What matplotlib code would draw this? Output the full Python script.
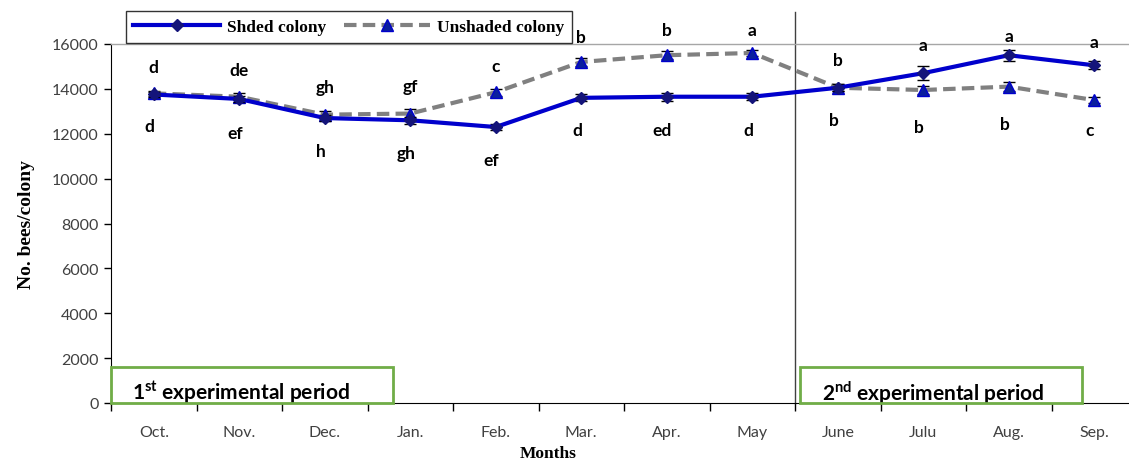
import matplotlib
matplotlib.use("Agg")
import matplotlib.pyplot as plt
from matplotlib.patches import Rectangle
from matplotlib.lines import Line2D
from matplotlib.ticker import FixedLocator, NullFormatter, FixedFormatter

months = ["Oct.", "Nov.", "Dec.", "Jan.", "Feb.", "Mar.", "Apr.", "May",
          "June", "Julu", "Aug.", "Sep."]
shaded = [13750, 13550, 12700, 12600, 12300, 13600, 13650, 13650,
          14050, 14700, 15500, 15050]
shaded_err = [120, 150, 150, 150, 120, 150, 180, 150, 150, 300, 250, 180]
unshaded = [13800, 13650, 12850, 12900, 13850, 15200, 15500, 15600,
            14050, 13950, 14100, 13500]
unshaded_err = [120, 150, 150, 200, 150, 180, 180, 150, 150, 200, 200, 150]
top_letters = ["d", "de", "gh", "gf", "c", "b", "b", "a", "b", "a", "a", "a"]
bottom_letters = ["d", "ef", "h", "gh", "ef", "d", "ed", "d", "b", "b", "b", "c"]

# label heights (data units) as placed in the reference
top_label_y = [14980, 14840, 14090, 14130, 15020, 16310, 16620, 16620,
               15290, 15950, 16350, 16090]
bottom_label_y = [12350, 12040, 11240, 11150, 10840, 12180, 12180, 12180,
                  12620, 12310, 12440, 12180]

plt.rcParams['mathtext.fontset'] = 'custom'
plt.rcParams['mathtext.bf'] = 'Lato:bold'
plt.rcParams['mathtext.rm'] = 'Lato'

W, H = 1129, 464
fig = plt.figure(figsize=(W / 100, H / 100), dpi=100)
ax = fig.add_axes([111 / W, (H - 404) / H, (1137 - 111) / W, (404 - 45) / H])

x = list(range(len(months)))
shaded_style = dict(color="#0000CC", lw=3, marker="D", markersize=6,
                    markerfacecolor="#14147A", markeredgecolor="#14147A")
unshaded_style = dict(color="#808080", lw=3, ls=(0, (3, 1.5)), marker="^",
                      markersize=8, markerfacecolor="#0A1E9E",
                      markeredgecolor="#0000CC")
ax.errorbar(x, shaded, yerr=shaded_err, ecolor="black", elinewidth=1, capsize=4,
            capthick=1, zorder=4, **shaded_style)
ax.errorbar(x, unshaded, yerr=unshaded_err, ecolor="black", elinewidth=1,
            capsize=4, capthick=1, zorder=3, **unshaded_style)

ax.set_xlim(-0.5, len(months) - 0.5)
ax.set_ylim(0, 16000)

# x ticks at category boundaries, labels at centres
ax.xaxis.set_major_locator(FixedLocator([i - 0.5 for i in range(len(months) + 1)]))
ax.xaxis.set_major_formatter(NullFormatter())
ax.xaxis.set_minor_locator(FixedLocator(x))
ax.xaxis.set_minor_formatter(FixedFormatter(months))
ax.tick_params(axis="x", which="major", direction="out", length=6, width=1, color="black")
ax.tick_params(axis="x", which="minor", length=0, pad=16, labelsize=11.5, labelcolor="#404040")
ax.set_yticks(range(0, 16001, 2000))
ax.tick_params(axis="y", direction="out", length=5, width=1, labelsize=11.5,
               labelcolor="#404040", pad=4)
for lab in ax.get_xticklabels(minor=True) + ax.get_yticklabels():
    lab.set_family("Lato")

ax.spines["right"].set_visible(False)
ax.spines["top"].set_color("#A6A6A6")
ax.spines["top"].set_linewidth(1)
ax.spines["left"].set_color("black")
ax.spines["bottom"].set_color("black")

# letters
for i in x:
    ax.text(i, top_label_y[i], top_letters[i], ha="center", va="center",
            fontsize=12.5, fontweight="bold", family="Lato", clip_on=False, zorder=6)
    ax.text(i - 0.05, bottom_label_y[i], bottom_letters[i], ha="center", va="center",
            fontsize=12.5, fontweight="bold", family="Lato", clip_on=False)

# divider between periods
ax.plot([7.5, 7.5], [0, 17420], color="#404040", lw=1, clip_on=False, zorder=2)

# period boxes
ax.add_patch(Rectangle((-0.5, 0), 3.3, 1600, fill=False, edgecolor="#70AD47",
                       lw=2, zorder=5, clip_on=False))
ax.add_patch(Rectangle((7.56, 0), 3.3, 1600, fill=False, edgecolor="#70AD47",
                       lw=2, zorder=5, clip_on=False))
ax.text(-0.25, 500, r"1$^{\mathbf{st}}$ experimental period", fontsize=15,
        fontweight="bold", family="Lato", va="center", ha="left")
ax.text(7.82, 500, r"2$^{\mathbf{nd}}$ experimental period", fontsize=15,
        fontweight="bold", family="Lato", va="center", ha="left")

ax.set_ylabel("No. bees/colony", fontsize=14, fontweight="bold",
              family="Liberation Serif", labelpad=12)
fig.text(548 / W, 2 / H, "Months", fontsize=12.5, fontweight="bold",
         family="Liberation Serif", ha="center", va="bottom")

handles = [Line2D([], [], **shaded_style), Line2D([], [], **unshaded_style)]
leg = fig.legend(handles, ["Shded colony", "Unshaded colony"], loc="center",
                 bbox_to_anchor=(349 / W, (H - 28) / H), ncol=2,
                 frameon=True, fancybox=False, edgecolor="black", handlelength=5.0,
                 columnspacing=1.0, handletextpad=0.4, borderpad=0.45,
                 prop={"family": "Liberation Serif", "weight": "bold", "size": 12.5})
leg.get_frame().set_linewidth(1)

fig.savefig("out.png", dpi=100)
